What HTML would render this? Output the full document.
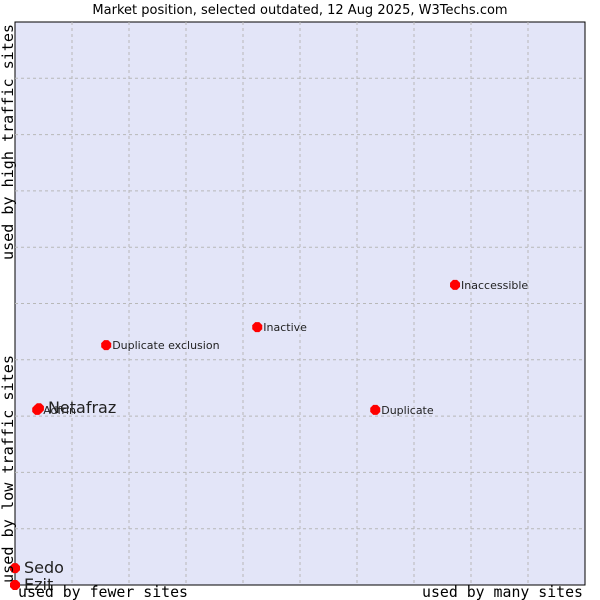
<!DOCTYPE html>
<html><head><meta charset="utf-8"><style>
body{margin:0;background:#fff;}
svg{display:block;}
</style></head><body>
<svg id="chart" width="600" height="600" xmlns="http://www.w3.org/2000/svg">
<text x="300" y="14" text-anchor="middle" font-family="DejaVu Sans, Liberation Sans, sans-serif" font-size="13" fill="#000">Market position, selected outdated, 12 Aug 2025, W3Techs.com</text>
<rect x="15" y="22" width="570" height="563" fill="#e3e5f8" stroke="#000" stroke-width="1"/>
<g id="grid"></g>
<g id="points"></g>
<text x="18" y="597" textLength="170" lengthAdjust="spacingAndGlyphs" font-family="DejaVu Sans Mono, Liberation Mono, monospace" font-size="15" fill="#000">used by fewer sites</text>
<text x="422" y="597" textLength="161" lengthAdjust="spacingAndGlyphs" font-family="DejaVu Sans Mono, Liberation Mono, monospace" font-size="15" fill="#000">used by many sites</text>
<text transform="translate(13,583) rotate(-90)" textLength="228" lengthAdjust="spacingAndGlyphs" font-family="DejaVu Sans Mono, Liberation Mono, monospace" font-size="15" fill="#000">used by low traffic sites</text>
<text transform="translate(13,260) rotate(-90)" textLength="236" lengthAdjust="spacingAndGlyphs" font-family="DejaVu Sans Mono, Liberation Mono, monospace" font-size="15" fill="#000">used by high traffic sites</text>
</svg>
<script>
const names = ["Ezit","Sedo","Adfrin","Netafraz","Duplicate exclusion","Inactive","Duplicate","Inaccessible"];
const xValues = [0,0,3.9,4.2,16.0,42.5,63.2,77.2];
const yValues = [0,3.0,31.1,31.4,42.6,45.8,31.1,53.3];
const bigLabel = [true,true,false,true,false,false,false,false];
const gridTicks = [10,20,30,40,50,60,70,80,90];

const L=15,R=585,T=22,B=585;
const sx=v=>L+(R-L)*v/100;
const sy=v=>B-(B-T)*v/100;
const NS="http://www.w3.org/2000/svg";
const grid=document.getElementById('grid');
gridTicks.forEach(t=>{
  const v=document.createElementNS(NS,'line');
  
  
  v.setAttribute('x1',sx(t));v.setAttribute('x2',sx(t));v.setAttribute('y1',T);v.setAttribute('y2',B);
  v.setAttribute('stroke','#b8b8b8');v.setAttribute('stroke-dasharray','3,3');
  grid.appendChild(v);
  const h=document.createElementNS(NS,'line');
  
  
  h.setAttribute('x1',L);h.setAttribute('x2',R);h.setAttribute('y1',sy(t));h.setAttribute('y2',sy(t));
  h.setAttribute('stroke','#b8b8b8');h.setAttribute('stroke-dasharray','3,3');
  grid.appendChild(h);
});
const pts=document.getElementById('points');
names.forEach((n,i)=>{
  const x=sx(xValues[i]),y=sy(yValues[i]);
  const d=document.createElementNS(NS,'polygon');
  
  
  d.setAttribute('points',`${x-2},${y-5} ${x+2},${y-5} ${x+5},${y-2} ${x+5},${y+2} ${x+2},${y+5} ${x-2},${y+5} ${x-5},${y+2} ${x-5},${y-2}`);
  d.setAttribute('fill','#ff0000');
  pts.appendChild(d);
  const t=document.createElementNS(NS,'text');
  
  
  t.setAttribute('x',x+(bigLabel[i]?9:6));
  t.setAttribute('y',y+(bigLabel[i]?5:4));
  t.setAttribute('font-family','DejaVu Sans, Liberation Sans, sans-serif');
  t.setAttribute('font-size',bigLabel[i]?'16':'11');
  t.setAttribute('fill','#222');
  t.textContent=n;
  pts.appendChild(t);
});
</script>
</body></html>
